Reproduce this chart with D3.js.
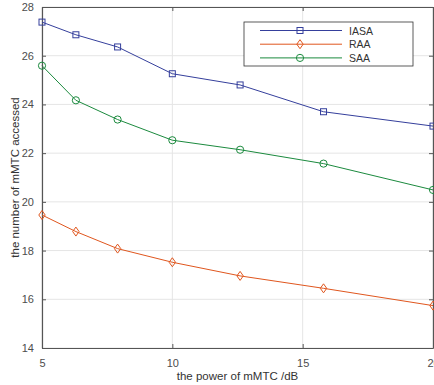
<!DOCTYPE html>
<html>
<head>
<meta charset="utf-8">
<script src="https://cdn.jsdelivr.net/npm/d3@7"></script>
<style>
  body { margin: 0; background: #fff; }
  svg { display: block; font-family: "Liberation Sans", Arial, sans-serif; }
</style>
</head>
<body>
<svg id="chart" width="434" height="385"></svg>
<script>
// values
var powers = [5, 6.3, 7.9, 10, 12.6, 15.8, 20];
var iasa = [27.38, 26.86, 26.36, 25.26, 24.8, 23.7, 23.11];
var raa  = [19.46, 18.78, 18.08, 17.52, 16.96, 16.45, 15.74];
var saa  = [25.59, 24.17, 23.38, 22.53, 22.14, 21.57, 20.49];
var xTicks = [5, 10, 15, 20];
var yTicks = [14, 16, 18, 20, 22, 24, 26, 28];

var series = [
  {name: "IASA", values: iasa, color: "#353f9c", marker: "square"},
  {name: "RAA",  values: raa,  color: "#e0561e", marker: "diamond"},
  {name: "SAA",  values: saa,  color: "#1b8a3e", marker: "circle"}
];

var svg = d3.select("#chart"),
    margin = {top: 7, right: 1, bottom: 37, left: 42},
    width = +svg.attr("width") - margin.left - margin.right,
    height = +svg.attr("height") - margin.top - margin.bottom;

var x = d3.scaleLinear().domain([5, 20]).range([0, width]),
    y = d3.scaleLinear().domain([14, 28]).range([height, 0]);

var g = svg.append("g")
  .attr("transform", "translate(" + margin.left + "," + margin.top + ")");

// grid
g.append("g").selectAll("line").data(xTicks).enter().append("line")
  .attr("x1", d => x(d)).attr("x2", d => x(d))
  .attr("y1", 0).attr("y2", height)
  .attr("stroke", "#e5e5e5");
g.append("g").selectAll("line").data(yTicks).enter().append("line")
  .attr("y1", d => y(d)).attr("y2", d => y(d))
  .attr("x1", 0).attr("x2", width)
  .attr("stroke", "#e5e5e5");

// axes, ticks pointing inward like matlab
function styleAxis(sel) {
  sel.selectAll("path").attr("stroke", "#555").attr("stroke-width", 1.2);
  sel.selectAll("line").attr("stroke", "#555");
  sel.selectAll("text").attr("fill", "#4d4d4d").style("font-size", "11px");
}
g.append("g")
  .attr("transform", "translate(0," + height + ")")
  .call(d3.axisBottom(x).tickValues(xTicks).tickSizeInner(-4).tickSizeOuter(0).tickPadding(11))
  .call(styleAxis);
g.append("g")
  .call(d3.axisLeft(y).tickValues(yTicks).tickSizeInner(-4).tickSizeOuter(0).tickPadding(8))
  .call(styleAxis);
g.append("g")
  .call(d3.axisTop(x).tickValues(xTicks).tickSizeInner(-4).tickSizeOuter(0).tickFormat(""))
  .call(styleAxis);
g.append("g")
  .attr("transform", "translate(" + width + ",0)")
  .call(d3.axisRight(y).tickValues(yTicks).tickSizeInner(-4).tickSizeOuter(0).tickFormat(""))
  .call(styleAxis);

var line = d3.line()
  .x((d, i) => x(powers[i]))
  .y(d => y(d));

function drawMarker(sel, type, color) {
  if (type === "square") {
    sel.append("rect").attr("x", -3).attr("y", -3).attr("width", 6).attr("height", 6);
  } else if (type === "diamond") {
    sel.append("path").attr("d", "M0,-4.5L3.2,0L0,4.5L-3.2,0Z");
  } else {
    sel.append("circle").attr("r", 3.6);
  }
  sel.selectAll("rect,path,circle")
    .attr("fill", "none").attr("stroke", color).attr("stroke-width", 1);
}

series.forEach(function(s) {
  g.append("path")
    .datum(s.values)
    .attr("d", line)
    .attr("fill", "none")
    .attr("stroke", s.color)
    .attr("stroke-width", 1);
  g.append("g").selectAll("g")
    .data(s.values).enter().append("g")
    .attr("transform", (d, i) => "translate(" + x(powers[i]) + "," + y(d) + ")")
    .each(function() { drawMarker(d3.select(this), s.marker, s.color); });
});

// legend
var leg = svg.append("g").attr("transform", "translate(244,22)");
leg.append("rect")
  .attr("width", 169).attr("height", 44)
  .attr("fill", "#fff").attr("stroke", "#333").attr("stroke-width", 0.8);
series.forEach(function(s, i) {
  var row = leg.append("g").attr("transform", "translate(0," + (8.5 + i * 13.7) + ")");
  row.append("line").attr("x1", 16).attr("x2", 98)
    .attr("stroke", s.color).attr("stroke-width", 1);
  var m = row.append("g").attr("transform", "translate(56,0)");
  drawMarker(m, s.marker, s.color);
  row.append("text").attr("x", 105).attr("y", 4)
    .attr("fill", "#333").style("font-size", "10.5px").text(s.name);
});

// axis labels
svg.append("text")
  .attr("x", margin.left + width / 2).attr("y", 380)
  .attr("text-anchor", "middle").attr("fill", "#333")
  .style("font-size", "11.5px")
  .text("the power of mMTC /dB");
svg.append("text")
  .attr("transform", "translate(19," + (margin.top + height / 2) + ") rotate(-90)")
  .attr("text-anchor", "middle").attr("fill", "#333")
  .style("font-size", "11.5px")
  .text("the number of mMTC accessed");
</script>
</body>
</html>
